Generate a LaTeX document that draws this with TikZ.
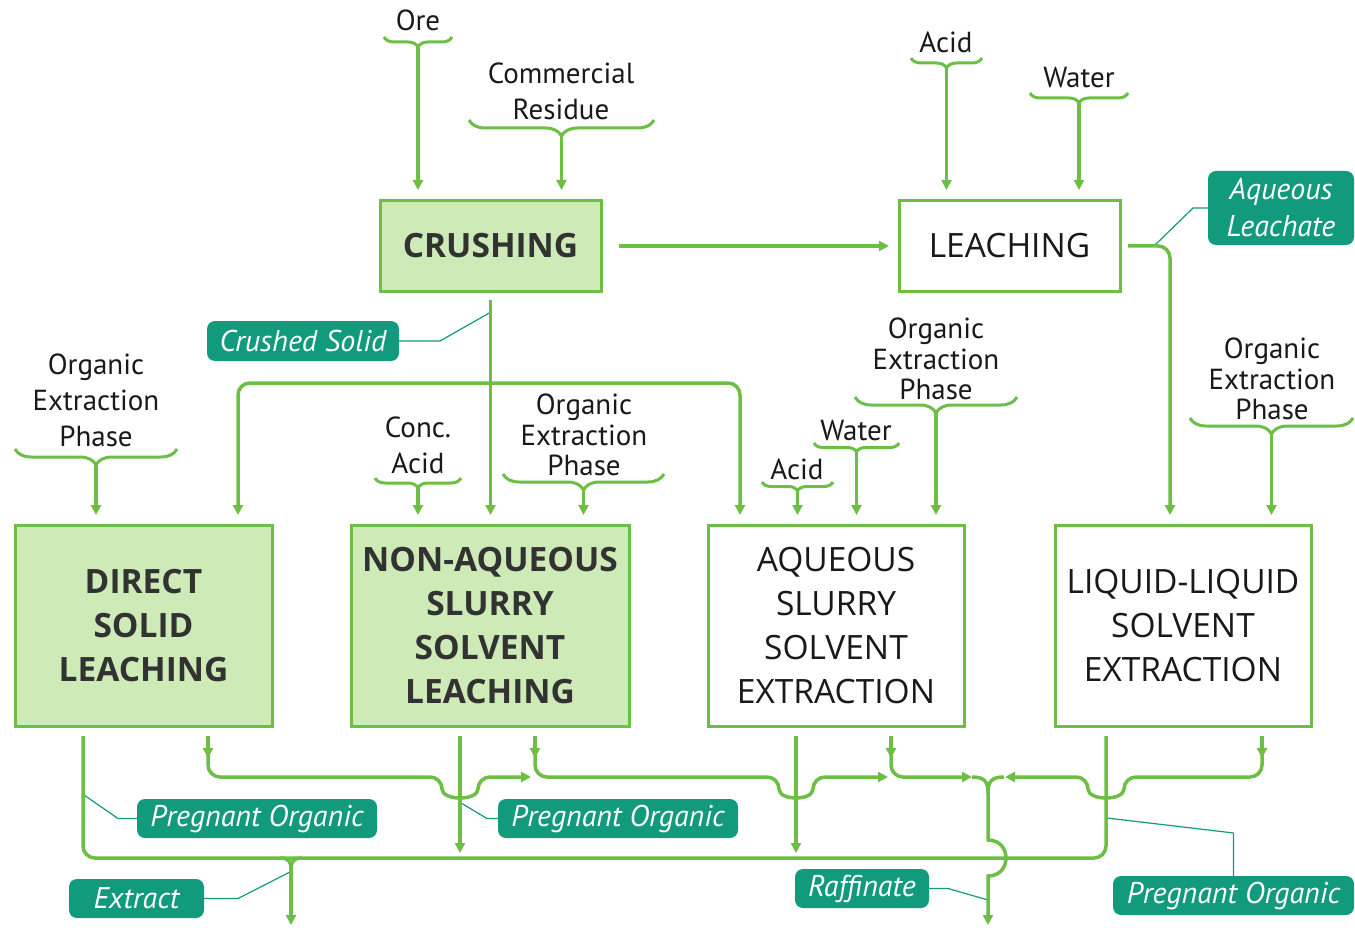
\documentclass[tikz,border=0pt]{standalone}
\usepackage{fontspec}
\setmainfont{PT Sans}
\newfontfamily\boxfont{Open Sans}
\usetikzlibrary{arrows.meta,decorations.pathreplacing}
\definecolor{lg}{RGB}{108,190,69}
\definecolor{fg}{RGB}{205,234,183}
\definecolor{tl}{RGB}{17,154,124}
\definecolor{dk}{RGB}{50,50,50}
\begin{document}
\begin{tikzpicture}[x=1pt,y=-1pt,
 box/.style={draw=lg, line width=3pt, align=center, inner sep=0pt, outer sep=0pt},
 fbox/.style={box, fill=fg, text=dk, font=\boxfont\bfseries\fontsize{33.5}{44}\selectfont},
 wbox/.style={box, fill=white, text=black!90, font=\boxfont\fontsize{33.5}{44}\selectfont},
 tag/.style={fill=tl, rounded corners=8pt, text=white, font=\itshape\fontsize{30}{37}\selectfont, align=center, inner sep=0pt, minimum height=39pt},
 lbl/.style={align=center, inner sep=0pt, text=black!90, font=\fontsize{29}{36}\selectfont},
 tight/.style={font=\fontsize{29}{30.5}\selectfont},
 brc/.style={draw=lg, line width=3pt, decorate, decoration={brace, mirror, amplitude=#1}},
 pipe/.style={draw=lg, line width=3.5pt},
 flow/.style={pipe, -{Triangle[length=10pt,width=10pt]}},
 lead/.style={draw=tl, line width=1.2pt},
]
\useasboundingbox (0,0) rectangle (1355,928);

% ---------- process boxes
\node[fbox, minimum width=221pt, minimum height=90pt] (crush) at (490.5,246) {CRUSHING};
\node[wbox, minimum width=221pt, minimum height=90pt] (leach) at (1009.5,246) {LEACHING};
\node[fbox, minimum width=257pt, minimum height=201pt] (direct) at (143.5,625.5) {DIRECT\\SOLID\\LEACHING};
\node[fbox, minimum width=278pt, minimum height=201pt] (nonaq) at (490,625.5) {NON-AQUEOUS\\SLURRY\\SOLVENT\\LEACHING};
\node[wbox, minimum width=256pt, minimum height=201pt] (aq) at (836,625.5) {AQUEOUS\\SLURRY\\SOLVENT\\EXTRACTION};
\node[wbox, minimum width=256pt, minimum height=201pt] (ll) at (1183,625.5) {LIQUID-LIQUID\\SOLVENT\\EXTRACTION};

% ---------- input labels
\node[lbl] (ore) at (418,20) {Ore};
\node[lbl] (comm) at (561,91) {Commercial\\Residue};
\node[lbl] (acid1) at (946,42) {Acid};
\node[lbl] (water1) at (1079,78) {Water};
\node[lbl] (oep1) at (96,400) {Organic\\Extraction\\Phase};
\node[lbl] (conc) at (418,445) {Conc.\\Acid};
\node[lbl, tight] (oep2) at (584,435) {Organic\\Extraction\\Phase};
\node[lbl] (acid3) at (797,469) {Acid};
\node[lbl] (water3) at (856,431) {Water};
\node[lbl, tight] (oep3) at (936,359) {Organic\\Extraction\\Phase};
\node[lbl, tight] (oep4) at (1272,379) {Organic\\Extraction\\Phase};

% ---------- braces
\draw[brc=10pt] (384,37) -- (452,37);   \coordinate (oreT) at (418,47);
\draw[brc=16pt] (469,120) -- (654,120); \coordinate (commT) at (561.5,136);
\draw[brc=10pt] (911,58) -- (982,58);   \coordinate (acid1T) at (946.5,68);
\draw[brc=10pt] (1030,93) -- (1128,93); \coordinate (water1T) at (1079,103);
\draw[brc=16pt] (15,449) -- (177,449);  \coordinate (oep1T) at (96,465);
\draw[brc=10pt] (375,478) -- (461,478); \coordinate (concT) at (418,488);
\draw[brc=16pt] (503,474) -- (664,474); \coordinate (oep2T) at (583.5,490);
\draw[brc=9pt] (762,482) -- (833,482);  \coordinate (acid3T) at (797.5,491);
\draw[brc=9pt] (814,443) -- (899,443);  \coordinate (water3T) at (856.5,452);
\draw[brc=16pt] (855,397) -- (1017,397); \coordinate (oep3T) at (936,413);
\draw[brc=16pt] (1190,418) -- (1353,418); \coordinate (oep4T) at (1271.5,434);

% ---------- input arrows
\draw[flow, shorten >=11pt] (oreT) -- (oreT |- crush.north);
\draw[flow, shorten >=11pt] (commT) -- (commT |- crush.north);
\draw[flow, shorten >=11pt] (acid1T) -- (acid1T |- leach.north);
\draw[flow, shorten >=11pt] (water1T) -- (water1T |- leach.north);
\draw[flow, shorten >=10pt] (oep1T) -- (oep1T |- direct.north);
\draw[flow, shorten >=10pt] (concT) -- (concT |- nonaq.north);
\draw[flow, shorten >=10pt] (oep2T) -- (oep2T |- nonaq.north);
\draw[flow, shorten >=10pt] (acid3T) -- (acid3T |- aq.north);
\draw[flow, shorten >=10pt] (water3T) -- (water3T |- aq.north);
\draw[flow, shorten >=10pt] (oep3T) -- (oep3T |- aq.north);
\draw[flow, shorten >=10pt] (oep4T) -- (oep4T |- ll.north);

% ---------- tags
\node[tag, minimum width=146pt, minimum height=74pt] (aql) at (1281,208) {Aqueous\\Leachate};
\node[tag, minimum width=192pt, minimum height=40pt] (crs) at (303,341) {Crushed Solid};
\node[tag, minimum width=240pt] (po1) at (257,818.5) {Pregnant Organic};
\node[tag, minimum width=240pt] (po2) at (618,818.5) {Pregnant Organic};
\node[tag, minimum width=241pt] (po3) at (1233.5,895.5) {Pregnant Organic};
\node[tag, minimum width=134pt] (raf) at (862,888.5) {Raffinate};
\node[tag, minimum width=135pt] (ext) at (136.5,898.5) {Extract};

% ---------- leader lines
\draw[lead] (aql.west) -- (1193,208) -- (1154,246);
\draw[lead] (crs.east) -- (440,341) -- (491,312);
\draw[lead] (po1.west) -- (118,818.5) -- (84,795);
\draw[lead] (po2.west) -- (487,818.5) -- (461,803);
\draw[lead] (po3.north) -- (1233.5,833) -- (1107,818);
\draw[lead] (raf.east) -- (948,888.5) -- (988,900);
\draw[lead] (ext.east) -- (238,898.5) -- (290,872);

% ---------- main flows
\draw[flow, shorten <=18pt, shorten >=10pt] (crush.east) -- (leach.west);
\coordinate (lc) at (1170,246);
\draw[flow, rounded corners=12pt, shorten <=8pt, shorten >=10pt] (leach.east) -- (lc) -- (lc |- ll.north);
\draw[flow, shorten <=9pt, shorten >=10pt] (crush.south) -- (crush.south |- nonaq.north);
\coordinate (dL) at (238,383);
\coordinate (dR) at (740,383);
\draw[pipe, {Triangle[length=10pt,width=10pt]}-{Triangle[length=10pt,width=10pt]}, rounded corners=12pt, shorten <=10pt, shorten >=10pt]
  (dL |- direct.north) -- (dL) -- (dR) -- (dR |- aq.north);

% ---------- outlets
\coordinate (dA) at (83,736);   \coordinate (dB) at (208,736);
\coordinate (nA) at (460,736);  \coordinate (nB) at (535,736);
\coordinate (qA) at (796,736);  \coordinate (qB) at (891,736);
\coordinate (lA) at (1106,736); \coordinate (lB) at (1262,736);
\coordinate (ex) at (291,869);
\coordinate (rj) at (988,793);

% bottom extract collector
\draw[pipe, rounded corners=12pt] (dA) -- (83,858) -- (1106,858) -- (lA);
\draw[pipe] (280,858) .. controls (288,858) and (291,861) .. (ex);
\draw[pipe] (302,858) .. controls (294,858) and (291,861) .. (ex);
\draw[flow] (ex) -- (291,925);

% raffinate collector
\draw[flow] (dB) -- ++(0,22);
\draw[flow, rounded corners=12pt] (208,750) -- (208,777) -- (442,777) .. controls (442,801) and (478,801) .. (478,777) -- (531,777);
\draw[flow] (nB) -- ++(0,22);
\draw[flow, rounded corners=12pt] (535,750) -- (535,777) -- (779,777) .. controls (779,801) and (813,801) .. (813,777) -- (888,777);
\draw[flow] (qB) -- ++(0,22);
\draw[flow, rounded corners=12pt] (891,750) -- (891,777) -- (972,777);
\draw[pipe] (972,777) .. controls (984,777) and (988,781) .. (rj);
\draw[pipe] (1004,777) .. controls (992,777) and (988,781) .. (rj);
\draw[flow] (lB) -- ++(0,22);
\draw[flow, rounded corners=12pt] (1262,750) -- (1262,777) -- (1124,777) .. controls (1124,801) and (1088,801) .. (1088,777) -- (1005,777);
\draw[flow] (rj) -- (988,840) .. controls (1012,840) and (1012,876) .. (988,876) -- (988,925);
\draw[flow] (nA) -- (460,853);
\draw[flow] (qA) -- (796,853);
\end{tikzpicture}
\end{document}
